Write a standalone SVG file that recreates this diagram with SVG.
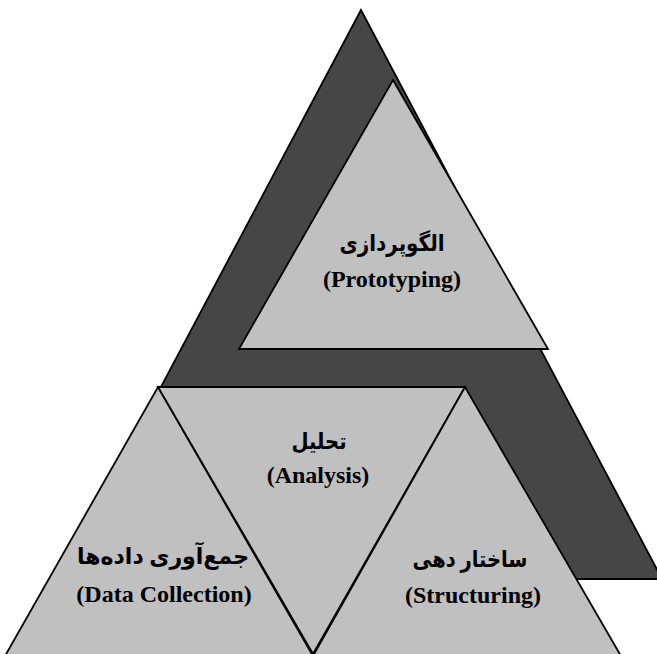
<svg xmlns="http://www.w3.org/2000/svg" width="657" height="654" viewBox="0 0 657 654">
<style>
.dark{fill:#464646;stroke:#000;stroke-width:1.8;stroke-linejoin:miter}
.light{fill:#c0c0c0;stroke:#000;stroke-width:1.8;stroke-linejoin:miter}
.en{font-family:"Liberation Serif","Times New Roman",serif;font-weight:bold;font-size:24px;text-anchor:middle;fill:#000}
.fa{font-family:"Liberation Serif","DejaVu Sans",serif;font-weight:bold;font-size:23px;text-anchor:middle;fill:#000}
</style>
<rect width="657" height="654" fill="#fff"/>
<g id="backdrop">
<polygon class="dark" points="361,10 662,579 59,579"/>
</g>
<g id="prototyping">
<polygon class="light" points="393,80 548,349 239,349"/>
<text class="fa" x="392" y="251" direction="rtl" textLength="105" lengthAdjust="spacingAndGlyphs">الگوپردازی</text>
<text class="en" x="392" y="287">(Prototyping)</text>
</g>
<g id="data-collection">
<polygon class="light" points="158,387 313,656 5,656"/>
<text class="fa" x="163" y="564" direction="rtl" textLength="172" lengthAdjust="spacingAndGlyphs">جمع&#x200C;آوری داده&#x200C;ها</text>
<text class="en" x="164" y="602">(Data Collection)</text>
</g>
<g id="analysis">
<polygon class="light" points="158,387 465,387 313,654"/>
<text class="fa" x="319" y="449" direction="rtl" textLength="55" lengthAdjust="spacingAndGlyphs">تحلیل</text>
<text class="en" x="318" y="483">(Analysis)</text>
</g>
<g id="structuring">
<polygon class="light" points="465,387 621,656 313,656"/>
<text class="fa" x="470" y="567" direction="rtl" textLength="115" lengthAdjust="spacingAndGlyphs">ساختار دهی</text>
<text class="en" x="473" y="603">(Structuring)</text>
</g>
<g id="connectors"></g>
</svg>
